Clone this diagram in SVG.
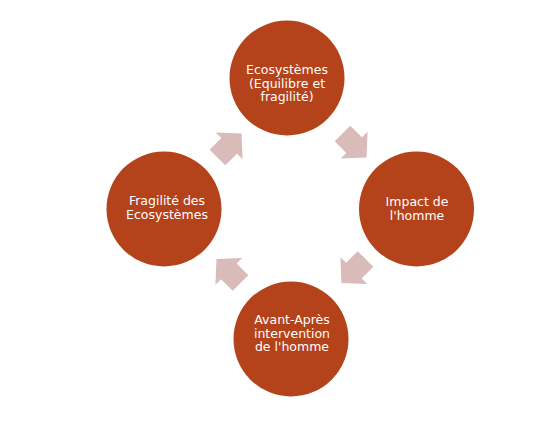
<svg xmlns="http://www.w3.org/2000/svg" xmlns:xlink="http://www.w3.org/1999/xlink" width="551" height="426" viewBox="0 0 551 426">
<style>
.node{fill:#B4421A;}
.lbl{fill:#ffffff;font-family:"DejaVu Sans","Liberation Sans",sans-serif;font-size:12.5px;text-anchor:middle;}
.arr{fill:#D9BBBA;}
</style>
<defs>
<path id="blk" d="M-17,-11 L-0.5,-11 L-0.5,-19 L17,0 L-0.5,19 L-0.5,11 L-17,11 Z"/>
</defs>
<rect width="551" height="426" fill="#ffffff"/>
<g id="connectors" class="arr">
<use xlink:href="#blk" href="#blk" transform="translate(354.5,145.5) rotate(45)"/>
<use xlink:href="#blk" href="#blk" transform="translate(353.5,271) rotate(135)"/>
<use xlink:href="#blk" href="#blk" transform="translate(228.5,271) rotate(225)"/>
<use xlink:href="#blk" href="#blk" transform="translate(229.5,145.5) rotate(315)"/>
</g>
<g id="node-ecosystemes">
<circle class="node" cx="287" cy="78" r="57.5"/>
<text class="lbl"><tspan x="287" y="74">Ecosystèmes</tspan><tspan x="287" y="87.5">(Equilibre et</tspan><tspan x="287" y="101">fragilité)</tspan></text>
</g>
<g id="node-impact">
<circle class="node" cx="416.5" cy="209" r="57.5"/>
<text class="lbl"><tspan x="417" y="205.5">Impact de</tspan><tspan x="417" y="219.5">l'homme</tspan></text>
</g>
<g id="node-avant-apres">
<circle class="node" cx="291" cy="339" r="57.5"/>
<text class="lbl"><tspan x="292" y="324">Avant-Après</tspan><tspan x="292" y="337.5">intervention</tspan><tspan x="292" y="351">de l'homme</tspan></text>
</g>
<g id="node-fragilite">
<circle class="node" cx="164" cy="209" r="57.5"/>
<text class="lbl"><tspan x="167" y="204.5">Fragilité des</tspan><tspan x="167" y="218.5">Ecosystèmes</tspan></text>
</g>
</svg>
